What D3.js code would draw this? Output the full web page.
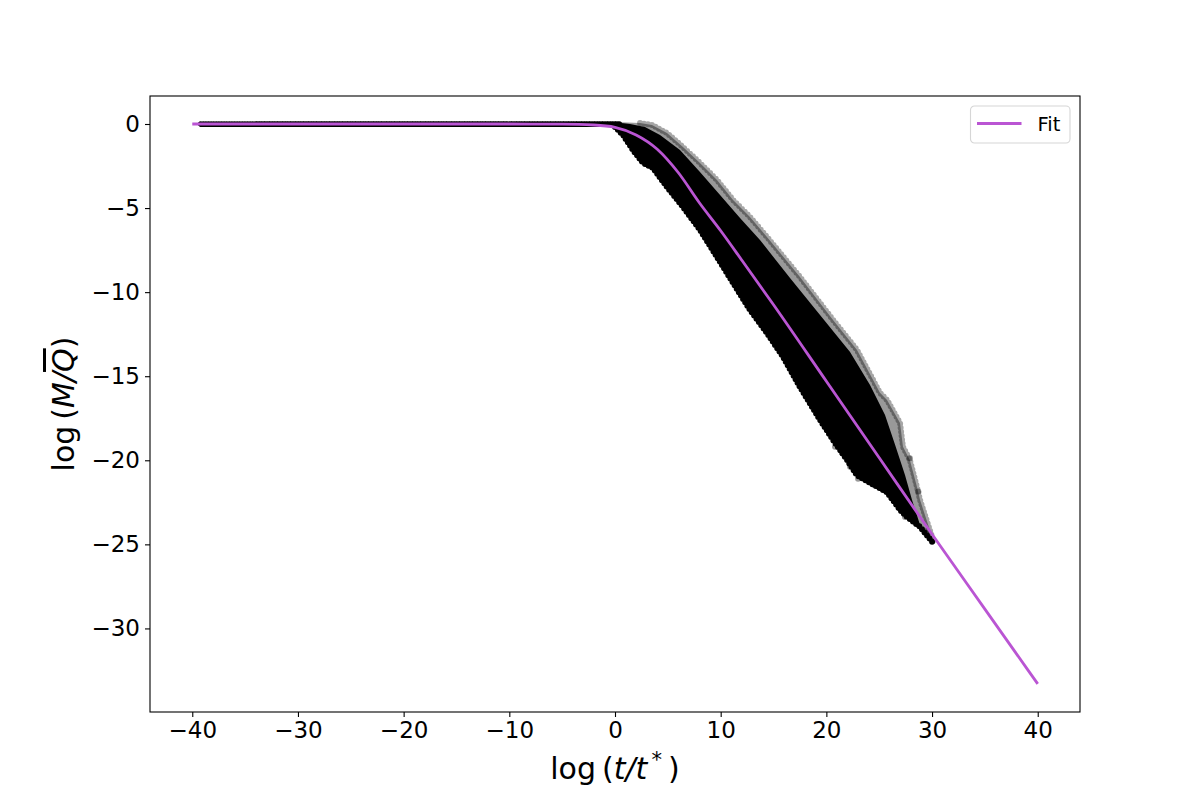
<!DOCTYPE html>
<html>
<head>
<meta charset="utf-8">
<script src="https://cdn.jsdelivr.net/npm/d3@7"></script>
<style>
    body { margin: 0; background: #fff; }
    text { font-family: 'DejaVu Sans', sans-serif; fill: #000; }
    .tick text { font-size: 23px; }
    .tick line { stroke: #000; stroke-width: 1.1; }
</style>
</head>
<body>
<script>
// Fit curve
const fitX = [-40, -30, -20, -10, -5, -2, 0, 2, 4, 6, 8, 10, 12, 15, 20, 25, 30, 35, 40];
const fitY = [0, 0, 0, 0, -0.01, -0.06, -0.2, -0.65, -1.5, -2.9, -4.7, -6.35, -8.1, -10.75, -15.3, -19.85, -24.4, -28.85, -33.3];

// Flat run of points at log(M/Q) = 0
const flatX = [-39.2, 0.5];
const flatY = [0, 0];

// Scatter cloud envelope: outer (faint) upper edge
const outerUpperX = [-39.3, -20, 0, 2.37, 3.5, 4.92, 6.43, 8.04, 9.65, 11.17, 12.77, 14.38, 17.5, 20.63, 22.9, 25.07, 25.74, 26.97, 27.25, 27.9, 28.57, 28.86, 30.09];
const outerUpperY = [0.12, 0.12, 0.12, 0.06, -0.06, -0.54, -1.37, -2.32, -3.33, -4.52, -5.53, -6.72, -9.1, -11.65, -13.44, -15.99, -16.41, -17.78, -19.2, -19.98, -21.58, -22.35, -24.73];

// solid core upper edge
const coreUpperX = [-39.0, -20, 0, 1.42, 2.84, 4.26, 6.15, 8.04, 9.94, 11.83, 13.72, 16.56, 19.4, 22.24, 24.13, 25.55, 26.5, 27.44, 28.1, 28.86];
const coreUpperY = [0.1, 0.1, 0.1, 0.0, -0.18, -0.65, -1.55, -2.85, -4.22, -5.59, -6.9, -9.16, -11.36, -13.56, -15.52, -17.3, -19.08, -20.87, -22.35, -23.84];

// lower edge of the cloud
const lowerX = [-39.3, -20, 0, 0.76, 1.7, 2.65, 3.6, 4.92, 6.43, 8.04, 9.65, 11.17, 12.77, 14.38, 15.9, 17.5, 19.4, 20.63, 21.95, 22.9, 24.3, 25.74, 26.97, 27.63, 28.86, 30.09];
const lowerY = [-0.18, -0.18, -0.18, -0.65, -1.55, -2.32, -2.62, -3.75, -4.93, -6.3, -7.91, -9.45, -11.06, -12.43, -13.85, -15.64, -17.6, -18.79, -19.98, -20.9, -21.4, -21.9, -22.95, -23.37, -23.96, -24.91];

// stray points outside the cloud
const strayX = [23.0, 21.48, 20.82, 22.24, 27.44, 27.16, 27.9, 28.7, 30.09, 29.5, 23.9, 24.6];
const strayY = [-21.1, -19.56, -19.2, -20.39, -23.37, -22.95, -19.88, -21.86, -24.79, -24.2, -21.0, -21.5];

const xTicks = [-40, -30, -20, -10, 0, 10, 20, 30, 40];
const yTicks = [0, -5, -10, -15, -20, -25, -30];

const width = 1200, height = 800;
const plot = { left: 150, right: 1080, top: 96, bottom: 712 };
const fitColor = '#ba55d3';

let svg = d3
    .select('body')
    .append('svg')
    .attr('width', width)
    .attr('height', height);

let x = d3.scaleLinear().domain([-44, 44]).range([plot.left, plot.right]);
let y = d3.scaleLinear().domain([-34.97, 1.665]).range([plot.bottom, plot.top]);

const zip = (xs, ys) => xs.map((v, i) => [v, ys[i]]);
let poly = d3.line().x(d => x(d[0])).y(d => y(d[1]));

// Cloud: faint outer band, then the solid core
let lower = zip(lowerX, lowerY).reverse();
svg.append('path')
    .attr('d', poly(zip(outerUpperX, outerUpperY).concat(lower)) + 'Z')
    .attr('fill', '#000')
    .attr('fill-opacity', 0.4);

// beaded edges so the cloud reads as overlapping markers
svg.append('path')
    .attr('d', poly(zip(outerUpperX, outerUpperY).filter(d => d[0] >= 1)))
    .attr('fill', 'none')
    .attr('stroke', '#000')
    .attr('stroke-opacity', 0.35)
    .attr('stroke-width', 6)
    .attr('stroke-linecap', 'round')
    .attr('stroke-dasharray', '0 4');

svg.append('path')
    .attr('d', poly(zip(coreUpperX, coreUpperY).concat(lower)) + 'Z')
    .attr('fill', '#000');

svg.append('path')
    .attr('d', poly(zip(lowerX, lowerY).filter(d => d[0] >= 0)))
    .attr('fill', 'none')
    .attr('stroke', '#000')
    .attr('stroke-width', 6)
    .attr('stroke-linecap', 'round')
    .attr('stroke-dasharray', '0 4');

svg.append('path')
    .attr('d', poly(zip(flatX, flatY)))
    .attr('fill', 'none')
    .attr('stroke', '#000')
    .attr('stroke-width', 5.5)
    .attr('stroke-linecap', 'round')
    .attr('stroke-dasharray', '0 2.6');

svg.selectAll('circle.stray')
    .data(zip(strayX, strayY))
    .enter()
    .append('circle')
    .attr('class', 'stray')
    .attr('cx', d => x(d[0]))
    .attr('cy', d => y(d[1]))
    .attr('r', 3)
    .attr('fill', '#000')
    .attr('fill-opacity', 0.4);

// Fit line
let fitLine = d3.line().x(d => x(d[0])).y(d => y(d[1])).curve(d3.curveMonotoneX);
svg.append('path')
    .attr('d', fitLine(zip(fitX, fitY)))
    .attr('fill', 'none')
    .attr('stroke', fitColor)
    .attr('stroke-width', 2.8);

// Axes
let xAxis = svg.append('g').attr('transform', `translate(0, ${plot.bottom})`);
xAxis.call(d3.axisBottom(x).tickValues(xTicks).tickSize(5).tickPadding(5));
let yAxis = svg.append('g').attr('transform', `translate(${plot.left}, 0)`);
yAxis.call(d3.axisLeft(y).tickValues(yTicks).tickSize(5).tickPadding(5));
svg.selectAll('.domain').remove();
svg.selectAll('.tick text').attr('font-family', null).attr('font-size', null);

svg.append('rect')
    .attr('x', plot.left)
    .attr('y', plot.top)
    .attr('width', plot.right - plot.left)
    .attr('height', plot.bottom - plot.top)
    .attr('fill', 'none')
    .attr('stroke', '#000')
    .attr('stroke-width', 1.1);

// Axis labels
let xLabel = svg.append('text')
    .attr('text-anchor', 'middle')
    .attr('x', (plot.left + plot.right) / 2)
    .attr('y', 779)
    .style('font-size', '30px');
xLabel.append('tspan').text('log\u2009(');
xLabel.append('tspan').style('font-style', 'italic').text('t/t');
xLabel.append('tspan').attr('dy', -12).style('font-size', '21px').text('\u2009*');
xLabel.append('tspan').attr('dy', 12).text('\u2009)');

let yLabel = svg.append('text')
    .attr('text-anchor', 'middle')
    .attr('transform', `translate(74, ${(plot.top + plot.bottom) / 2}) rotate(-90)`)
    .style('font-size', '30px');
yLabel.append('tspan').text('log\u2009(');
yLabel.append('tspan').style('font-style', 'italic').text('M/');
yLabel.append('tspan').style('font-style', 'italic').style('text-decoration', 'overline').text('Q');
yLabel.append('tspan').text(')');

// Legend
let legend = svg.append('g').attr('transform', 'translate(970.5, 106)');
legend.append('rect')
    .attr('width', 99.5)
    .attr('height', 37)
    .attr('rx', 4)
    .attr('fill', '#fff')
    .attr('fill-opacity', 0.8)
    .attr('stroke', '#d6d6d6')
    .attr('stroke-width', 1.1);
legend.append('line')
    .attr('x1', 6.5)
    .attr('x2', 51)
    .attr('y1', 17.5)
    .attr('y2', 17.5)
    .attr('stroke', fitColor)
    .attr('stroke-width', 2.8);
legend.append('text')
    .attr('x', 67)
    .attr('y', 25)
    .style('font-size', '19.5px')
    .text('Fit');
</script>
</body>
</html>
